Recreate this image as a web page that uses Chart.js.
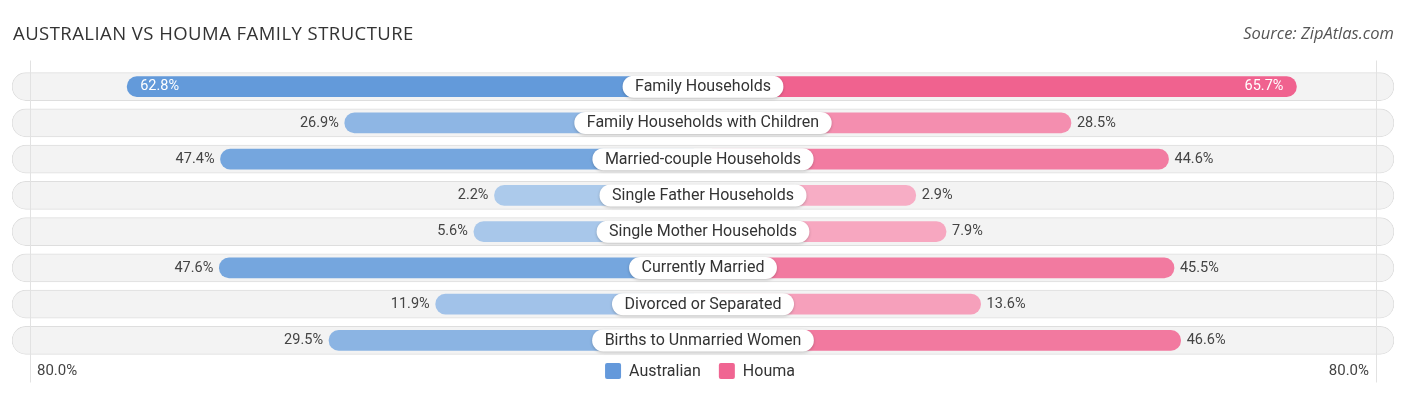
<!DOCTYPE html>
<html>
<head>
<meta charset="utf-8">
<script src="https://cdn.jsdelivr.net/npm/chart.js@4.4.1/dist/chart.umd.min.js"></script>
<style>
    body { margin: 0; background: #fff; font-family: Roboto, sans-serif; }
    .wrap { position: relative; width: 1406px; height: 395px; }
    .title { position: absolute; left: 13px; top: 20px; font-family: 'Open Sans', sans-serif; font-size: 18.5px; color: #333; letter-spacing: 0.45px; }
    .source { position: absolute; right: 12px; top: 21px; font-family: 'Open Sans', sans-serif; font-style: italic; font-size: 16.5px; color: #555; }
    canvas { position: absolute; left: 0; top: 0; }
</style>
</head>
<body>
<div class="wrap">
    <canvas id="chart" width="1406" height="395"></canvas>
    <div class="title">AUSTRALIAN VS HOUMA FAMILY STRUCTURE</div>
    <div class="source">Source: ZipAtlas.com</div>
</div>
<script>
const categories = [
    'Family Households',
    'Family Households with Children',
    'Married-couple Households',
    'Single Father Households',
    'Single Mother Households',
    'Currently Married',
    'Divorced or Separated',
    'Births to Unmarried Women'
];
const australian = [62.8, 26.9, 47.4, 2.2, 5.6, 47.6, 11.9, 29.5];
const houma = [65.7, 28.5, 44.6, 2.9, 7.9, 45.5, 13.6, 46.6];
const seriesNames = ['Australian', 'Houma'];
const axisLabel = '80.0%';

// bars start under the centre label, so every bar gets the same base length
const BASE = 32.2;
const LIMIT = 114;
const BLUE = [95, 152, 217];
const PINK = [240, 98, 143];
const LEGEND_COLORS = ['rgb(100,153,219)', 'rgb(240,101,146)'];

function shade(rgb, v) {
    const maxV = Math.max(...australian, ...houma);
    const a = 0.5 + 0.5 * (v / maxV);
    const c = rgb.map(x => Math.round(x * a + 255 * (1 - a)));
    return `rgb(${c[0]},${c[1]},${c[2]})`;
}

function pill(ctx, x, y, w, h) {
    const r = h / 2;
    ctx.beginPath();
    ctx.moveTo(x + r, y);
    ctx.lineTo(x + w - r, y);
    ctx.arc(x + w - r, y + r, r, -Math.PI / 2, Math.PI / 2);
    ctx.lineTo(x + r, y + h);
    ctx.arc(x + r, y + r, r, Math.PI / 2, Math.PI * 1.5);
    ctx.closePath();
}

const labelPlugin = {
    id: 'labels',
    afterDatasetsDraw(chart) {
        const ctx = chart.ctx;
        const xs = chart.scales.x;
        const ys = chart.scales.y;
        const area = chart.chartArea;
        const cx = xs.getPixelForValue(0);

        // faint frame lines
        ctx.save();
        ctx.strokeStyle = '#e2e2e2';
        ctx.lineWidth = 1;
        [area.left + 18.5, area.right - 17.5].forEach(x => {
            ctx.beginPath();
            ctx.moveTo(x, area.top - 8);
            ctx.lineTo(x, area.bottom + 24);
            ctx.stroke();
        });
        ctx.restore();

        categories.forEach((cat, i) => {
            const y = ys.getPixelForValue(i);

            // value labels
            ctx.save();
            ctx.font = '14.5px Roboto';
            ctx.textBaseline = 'middle';
            const aVal = australian[i];
            const hVal = houma[i];
            const aX = xs.getPixelForValue(-(BASE + aVal));
            const hX = xs.getPixelForValue(BASE + hVal);
            if (aVal > 60) {
                ctx.fillStyle = '#fff';
                ctx.textAlign = 'left';
                ctx.fillText(aVal.toFixed(1) + '%', aX + 13, y);
            } else {
                ctx.fillStyle = '#444';
                ctx.textAlign = 'right';
                ctx.fillText(aVal.toFixed(1) + '%', aX - 6, y);
            }
            if (hVal > 60) {
                ctx.fillStyle = '#fff';
                ctx.textAlign = 'right';
                ctx.fillText(hVal.toFixed(1) + '%', hX - 13, y);
            } else {
                ctx.fillStyle = '#444';
                ctx.textAlign = 'left';
                ctx.fillText(hVal.toFixed(1) + '%', hX + 6, y);
            }
            ctx.restore();

            // centre label
            ctx.save();
            ctx.font = '16px Roboto';
            const tw = ctx.measureText(cat).width;
            const w = tw + 25;
            const h = 22;
            ctx.shadowColor = 'rgba(0,0,0,0.22)';
            ctx.shadowBlur = 3;
            ctx.shadowOffsetY = 1;
            ctx.fillStyle = '#fff';
            pill(ctx, cx - w / 2, y - h / 2, w, h);
            ctx.fill();
            ctx.shadowColor = 'transparent';
            ctx.fillStyle = '#333';
            ctx.textAlign = 'center';
            ctx.textBaseline = 'middle';
            ctx.fillText(cat, cx, y + 0.5);
            ctx.restore();
        });

        const ly = area.bottom + 12.5;

        // axis end labels
        ctx.save();
        ctx.font = '15px Roboto';
        ctx.fillStyle = '#444';
        ctx.textBaseline = 'middle';
        ctx.textAlign = 'left';
        ctx.fillText(axisLabel, area.left + 25, ly);
        ctx.textAlign = 'right';
        ctx.fillText(axisLabel, area.right - 25, ly);
        ctx.restore();

        // legend
        ctx.save();
        ctx.font = '16px Roboto';
        ctx.textBaseline = 'middle';
        const box = 16, gapText = 8, gapItem = 18;
        const widths = seriesNames.map(n => box + gapText + ctx.measureText(n).width);
        const total = widths.reduce((s, w) => s + w, 0) + gapItem;
        let lx = cx - 3 - total / 2;
        seriesNames.forEach((name, i) => {
            ctx.fillStyle = LEGEND_COLORS[i];
            ctx.beginPath();
            ctx.roundRect(lx, ly - box / 2, box, box, 2);
            ctx.fill();
            ctx.fillStyle = '#333';
            ctx.textAlign = 'left';
            ctx.fillText(name, lx + box + gapText, ly + 0.5);
            lx += widths[i] + gapItem;
        });
        ctx.restore();
    }
};

document.addEventListener('DOMContentLoaded', () => {
    const ctx = document.getElementById('chart').getContext('2d');
    new Chart(ctx, {
        type: 'bar',
        data: {
            labels: categories,
            datasets: [
                {
                    label: seriesNames[0],
                    data: australian.map(v => [-(BASE + v), 0]),
                    backgroundColor: australian.map(v => shade(BLUE, v)),
                    borderRadius: 10,
                    borderSkipped: false,
                    barThickness: 20,
                    grouped: false,
                    order: 1
                },
                {
                    label: seriesNames[1],
                    data: houma.map(v => [0, BASE + v]),
                    backgroundColor: houma.map(v => shade(PINK, v)),
                    borderRadius: 10,
                    borderSkipped: false,
                    barThickness: 20,
                    grouped: false,
                    order: 1
                },
                {
                    label: 'track',
                    data: categories.map(() => [-LIMIT, LIMIT]),
                    backgroundColor: '#f3f3f3',
                    borderColor: '#dedede',
                    borderWidth: 1,
                    borderRadius: 14,
                    borderSkipped: false,
                    barThickness: 28,
                    grouped: false,
                    order: 2
                }
            ]
        },
        options: {
            indexAxis: 'y',
            responsive: false,
            animation: false,
            layout: { padding: { left: 12, right: 12, top: 68.5, bottom: 36.5 } },
            scales: {
                x: { display: false, min: -LIMIT, max: LIMIT },
                y: { display: false }
            },
            plugins: {
                tooltip: { enabled: false },
                legend: { display: false }
            }
        },
        plugins: [labelPlugin]
    });
});
</script>
</body>
</html>
